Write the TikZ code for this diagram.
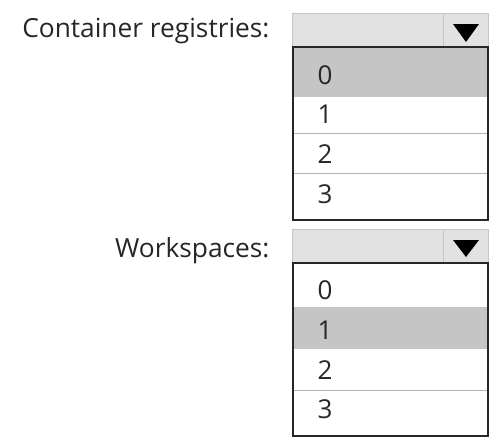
\documentclass[tikz,border=0pt]{standalone}
\usepackage{fontspec}
\setmainfont{Open Sans}
\definecolor{headfill}{HTML}{E2E2E2}
\definecolor{headline}{HTML}{C6C6C6}
\definecolor{pickfill}{HTML}{C5C5C5}
\definecolor{rowline}{HTML}{B2B2B2}
\begin{document}
\begin{tikzpicture}[
        x = 1pt,
        y = -1pt,
        lbl/.style = {anchor=base east, font=\fontsize{26.3}{30}\selectfont, text=black!85},
        item/.style = {anchor=base, font=\fontsize{26}{30}\selectfont, text=black!85},
        head/.style = {fill=headfill, draw=headline, line width=1pt},
        listbox/.style = {draw=black!85, line width=1.4pt}]
      \useasboundingbox (0,0) rectangle (498,445);
      % container registries
      \node [lbl] (regLabel) at (273,37) {Container registries:};
      \draw [head] (292,13) rectangle (488,47);
      \draw [headline, line width=1pt] (443,13) -- (443,47);
      \fill (453,24) -- (479,24) -- (466,42) -- cycle;
      \fill [pickfill] (293,48) rectangle (488,97);
      \draw [rowline] (293,133) -- (488,133);
      \draw [rowline] (293,173) -- (488,173);
      \draw [listbox] (293,47) rectangle (488,220);
      \foreach \n/\y in {0/84, 1/123, 2/163, 3/203}
        \node [item] (reg\n) at (325,\y) {\n};
      % workspaces
      \node [lbl] (wsLabel) at (273,257) {Workspaces:};
      \draw [head] (292,229) rectangle (488,263);
      \draw [headline, line width=1pt] (443,229) -- (443,263);
      \fill (453,240) -- (479,240) -- (466,257) -- cycle;
      \fill [pickfill] (293,307) rectangle (488,349);
      \draw [rowline] (293,390) -- (488,390);
      \draw [listbox] (293,263) rectangle (488,436);
      \foreach \n/\y in {0/299, 1/339, 2/379, 3/418}
        \node [item] (ws\n) at (325,\y) {\n};
    \end{tikzpicture}
\end{document}
